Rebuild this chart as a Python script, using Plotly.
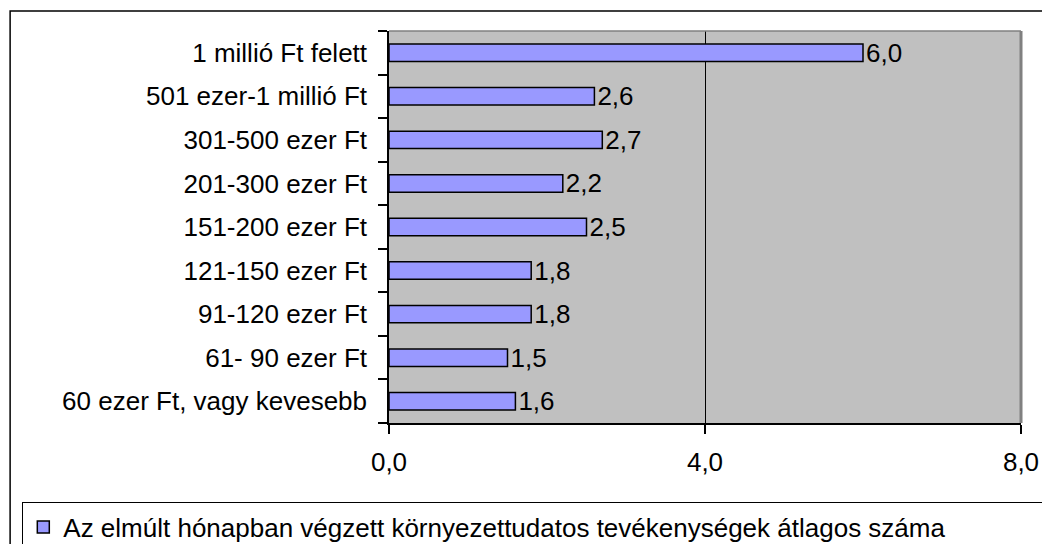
import plotly.graph_objects as go

categories = ["60 ezer Ft, vagy kevesebb", "61- 90 ezer Ft", "91-120 ezer Ft",
              "121-150 ezer Ft", "151-200 ezer Ft", "201-300 ezer Ft",
              "301-500 ezer Ft", "501 ezer-1 millió Ft", "1 millió Ft felett"]
values = [1.6, 1.5, 1.8, 1.8, 2.5, 2.2, 2.7, 2.6, 6.0]
series_name = "Az elmúlt hónapban végzett környezettudatos tevékenységek átlagos száma"
x_ticks = [0, 4, 8]

FONT = "Liberation Sans, Arial, sans-serif"

fig = go.Figure()
fig.add_trace(go.Bar(
    y=categories,
    x=values,
    orientation="h",
    name=series_name,
    marker=dict(color="#9999FF", line=dict(color="black", width=1.5)),
    texttemplate="%{x:.1f}",
    textposition="outside",
    constraintext="none",
    textfont=dict(size=26, color="black", family=FONT),
    cliponaxis=False,
    showlegend=True,
))

# page body has an 8px margin, so margins are shifted by 8px
fig.update_layout(
    width=1050, height=544,
    margin=dict(l=381, r=37, t=23, b=129, autoexpand=False),
    paper_bgcolor="white",
    plot_bgcolor="#C0C0C0",
    separators=", ",
    bargap=0.6,
    font=dict(family=FONT, size=26, color="black"),
    xaxis=dict(range=[0, 8], tickvals=x_ticks, tickformat=".1f",
               showline=True, linecolor="black", linewidth=1.5,
               ticks="outside", ticklen=9, tickcolor="black", tickwidth=1.5,
               showgrid=True, gridcolor="black", gridwidth=1.2,
               zeroline=False, fixedrange=True, automargin=False,
               ticklabelstandoff=6),
    yaxis=dict(type="category", showline=True, linecolor="black", linewidth=1.5,
               ticks="outside", ticklen=9, tickcolor="black", tickwidth=1.5,
               tickson="boundaries", showgrid=False, zeroline=False,
               ticklabelstandoff=15, automargin=False),
    legend=dict(x=-0.581, y=-0.2015, xanchor="left", yanchor="top",
                orientation="h", bordercolor="black", borderwidth=1.5,
                bgcolor="white", font=dict(size=26), entrywidth=975,
                itemwidth=30),
    shapes=[
        # plot area top and right edges
        dict(type="line", xref="paper", yref="paper", x0=0, x1=1, y0=1, y1=1,
             line=dict(color="#808080", width=1.5)),
        dict(type="line", xref="paper", yref="paper", x0=1, x1=1, y0=0, y1=1,
             line=dict(color="#808080", width=3)),
        # outer chart border
        dict(type="rect", xref="paper", yref="paper", x0=-0.5995, x1=1.1,
             y0=-0.4, y1=1.051, line=dict(color="black", width=1.5),
             layer="above"),
    ],
)

fig.write_html("out.html")
